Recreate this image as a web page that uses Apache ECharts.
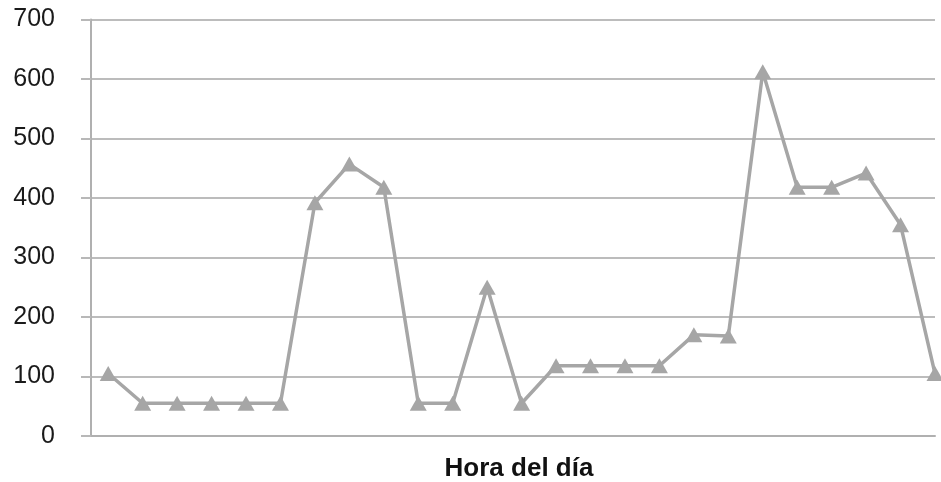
<!DOCTYPE html>
<html>
<head>
<meta charset="utf-8">
<script src="https://cdn.jsdelivr.net/npm/echarts@6/dist/echarts.min.js"></script>
<style>
  html, body { margin: 0; padding: 0; background: #fff; }
  #chart { width: 941px; height: 482px; }
</style>
</head>
<body>
<div id="chart"></div>
<script>
    // horas del dia (sin etiquetas visibles en el original)
    var horas = [0, 1, 2, 3, 4, 5, 6, 7, 8, 9, 10, 11, 12,
        13, 14, 15, 16, 17, 18, 19, 20, 21, 22, 23, 24];
    var valores = [105, 55, 55, 55, 55, 55, 392, 457, 418, 55, 55, 250, 55,
        118, 118, 118, 118, 170, 168, 612, 418, 418, 442, 355, 105];
    var yTicks = [0, 100, 200, 300, 400, 500, 600, 700];

    var puntos = [];
    for (var i = 0; i < horas.length; i++) {
        puntos.push([horas[i], valores[i]]);
    }

    var myChart = echarts.init(document.getElementById('chart'));

    var option = {
        animation: false,
        backgroundColor: '#fff',
        grid: { left: 91, right: 6, top: 19.5, bottom: 46, outerBoundsMode: 'none', containLabel: false },
        xAxis: {
            type: 'value',
            min: -0.5,
            max: 24,
            name: 'Hora del día',
            nameLocation: 'middle',
            nameGap: 20,
            nameTextStyle: { fontFamily: 'Liberation Sans', fontSize: 26, fontWeight: 'bold', color: '#111', padding: [0, 0, 0, 12] },
            axisLine: { show: true, onZero: false, lineStyle: { color: '#b0b0b0', width: 2 } },
            axisTick: { show: false },
            axisLabel: { show: false },
            splitLine: { show: false }
        },
        yAxis: {
            type: 'value',
            min: yTicks[0],
            max: yTicks[yTicks.length - 1],
            interval: 100,
            axisLine: { show: true, onZero: false, lineStyle: { color: '#b0b0b0', width: 2 } },
            axisTick: { show: true, length: 10, lineStyle: { color: '#b8b8b8', width: 2 } },
            axisLabel: { margin: 36, fontFamily: 'Liberation Sans', fontSize: 25, color: '#1a1a1a' },
            splitLine: { show: true, lineStyle: { color: '#bcbcbc', width: 2 } }
        },
        series: [{
            type: 'line',
            data: puntos,
            symbol: 'triangle',
            symbolSize: [17, 15],
            lineStyle: { color: '#a6a6a6', width: 3.5 },
            itemStyle: { color: '#a6a6a6' }
        }]
    };

    myChart.setOption(option);
</script>
</body>
</html>
